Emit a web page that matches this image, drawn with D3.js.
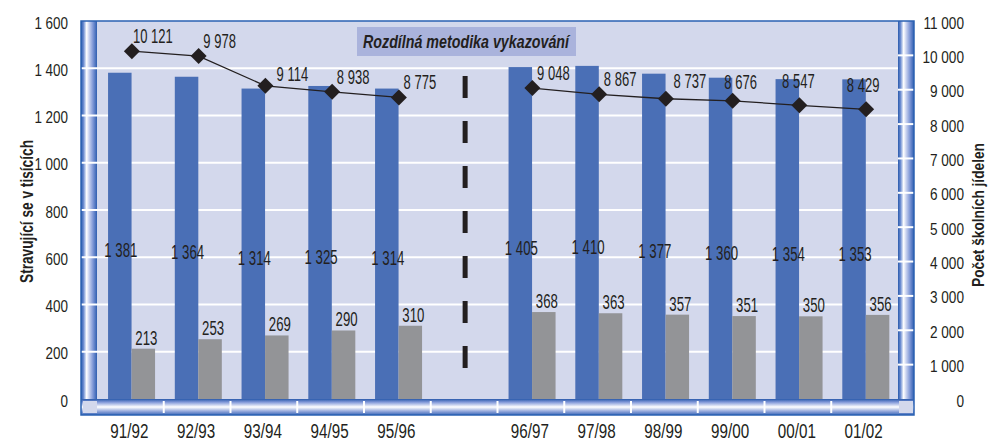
<!DOCTYPE html>
<html><head><meta charset="utf-8">
<script src="https://cdn.jsdelivr.net/npm/d3@7"></script>
<style>
html,body{margin:0;padding:0;background:#fff;}
svg{display:block;}
text{font-family:"Liberation Sans",Arial,sans-serif;fill:#231f20;}
</style></head>
<body>
<svg id="chart" width="990" height="443"></svg>
<script>
// ---- data ----
const categories = ["91/92","92/93","93/94","94/95","95/96","gap","96/97","97/98","98/99","99/00","00/01","01/02"];
const stravujici = [1381,1364,1314,1325,1314,null,1405,1410,1377,1360,1354,1353];
const druhaRada  = [213,253,269,290,310,null,368,363,357,351,350,356];
const jidelny    = [10121,9978,9114,8938,8775,null,9048,8867,8737,8676,8547,8429];
const leftTicks  = [0,200,400,600,800,1000,1200,1400,1600];
const rightTicks = [0,1000,2000,3000,4000,5000,6000,7000,8000,9000,10000,11000];
const leftTitle  = "Stravující se v tisících";
const rightTitle = "Počet školních jídelen";
const noteText   = "Rozdílná metodika vykazování";

// ---- layout ----
const svg = d3.select("#chart");
const P = {left:97, right:898, top:21, bottom:399};
const wall = 16;
const fmt = d3.formatLocale({thousands:" ", grouping:[3], decimal:",", currency:["",""]}).format(",d");

const x = d3.scaleBand().domain(categories).range([P.left, P.right]).paddingInner(0).paddingOuter(0);
const xSub = d3.scaleBand().domain(["a","b"]).range([0, x.bandwidth()]).paddingInner(0).paddingOuter(0.42).align(0.56);
const yL = d3.scaleLinear().domain([0,1600]).range([P.bottom, P.top]);
const yR = d3.scaleLinear().domain([0,11000]).range([P.bottom, P.top]);

function squeeze(sel, f){
  sel.each(function(){
    const L = this.getComputedTextLength();
    this.setAttribute("textLength", (L*f).toFixed(2));
    this.setAttribute("lengthAdjust","spacingAndGlyphs");
  });
}

// gradients
const defs = svg.append("defs");
const gv = defs.append("linearGradient").attr("id","gWall").attr("x1","0").attr("x2","1").attr("y1","0").attr("y2","0");
[[0,"#2a5aab"],[0.15,"#6688cf"],[0.35,"#ffffff"],[0.5,"#cbd4f0"],[0.75,"#7d96d6"],[1,"#2f5eb0"]]
  .forEach(s=>gv.append("stop").attr("offset",s[0]).attr("stop-color",s[1]));
const gf = defs.append("linearGradient").attr("id","gFloor").attr("x1","0").attr("x2","0").attr("y1","0").attr("y2","1");
[[0,"#2a5aab"],[0.2,"#8299d9"],[0.5,"#ffffff"],[0.75,"#9badde"],[1,"#3a66b8"]]
  .forEach(s=>gf.append("stop").attr("offset",s[0]).attr("stop-color",s[1]));

// plot background
svg.append("rect").attr("x",P.left).attr("y",P.top).attr("width",P.right-P.left).attr("height",P.bottom-P.top).attr("fill","#d3d8ec");

// walls and floor
svg.append("rect").attr("x",P.left-wall).attr("y",P.top).attr("width",wall).attr("height",P.bottom-P.top+wall).attr("fill","url(#gWall)");
svg.append("rect").attr("x",P.right).attr("y",P.top).attr("width",wall).attr("height",P.bottom-P.top+wall).attr("fill","url(#gWall)");
svg.append("rect").attr("x",P.left-wall).attr("y",P.bottom).attr("width",P.right-P.left+2*wall).attr("height",wall).attr("fill","url(#gFloor)");
svg.append("rect").attr("x",P.left-wall+2).attr("y",P.bottom+2).attr("width",wall-2).attr("height",wall-4).attr("fill","#d3d8ec");
svg.append("rect").attr("x",P.right+1).attr("y",P.bottom+2).attr("width",wall-2).attr("height",wall-4).attr("fill","#d3d8ec");

// gridlines (left axis) crossing the left wall
svg.append("g").selectAll("line").data(leftTicks.filter(t=>t>0 && t<1600)).join("line")
  .attr("x1",P.left-wall).attr("x2",P.right).attr("y1",d=>yL(d)).attr("y2",d=>yL(d))
  .attr("stroke","#fff").attr("stroke-width",2);
// right wall ticks
svg.append("g").selectAll("line").data(rightTicks.filter(t=>t>0 && t<11000)).join("line")
  .attr("x1",P.right).attr("x2",P.right+wall).attr("y1",d=>yR(d)).attr("y2",d=>yR(d))
  .attr("stroke","#fff").attr("stroke-width",2);
// floor ticks at category boundaries
svg.append("g").selectAll("line").data(categories.slice(1)).join("line")
  .attr("x1",d=>x(d)).attr("x2",d=>x(d)).attr("y1",P.bottom+2).attr("y2",P.bottom+wall-2)
  .attr("stroke","#fff").attr("stroke-width",2);

// outer border
svg.append("rect").attr("x",P.left-wall).attr("y",P.top).attr("width",P.right-P.left+2*wall).attr("height",P.bottom-P.top+wall)
  .attr("fill","none").attr("stroke","#2b62b3").attr("stroke-width",1.5);

// bars
const rows = categories.map((c,i)=>({c, a:stravujici[i], b:druhaRada[i], n:jidelny[i]})).filter(d=>d.a!=null);
svg.append("g").selectAll("rect").data(rows).join("rect")
  .attr("x",d=>x(d.c)+xSub("a")).attr("width",xSub.bandwidth())
  .attr("y",d=>yL(d.a)).attr("height",d=>yL(0)-yL(d.a)).attr("fill","#4a6fb6");
svg.append("g").selectAll("rect").data(rows).join("rect")
  .attr("x",d=>x(d.c)+xSub("b")).attr("width",xSub.bandwidth())
  .attr("y",d=>yL(d.b)).attr("height",d=>yL(0)-yL(d.b)).attr("fill","#939497");

// dashed separator in the gap slot
const gx = x("gap")+x.bandwidth()/2+1;
svg.append("line").attr("x1",gx).attr("x2",gx).attr("y1",76).attr("y2",370)
  .attr("stroke","#231f20").attr("stroke-width",5).attr("stroke-dasharray","22 23");

// bar labels
const blueLbl = svg.append("g").selectAll("text").data(rows).join("text")
  .attr("text-anchor","middle").attr("font-size",20)
  .attr("x",d=>x(d.c)+xSub("a")+xSub.bandwidth()/2+1)
  .attr("y",d=>(yL(d.a)+yL(0))/2+21.5).text(d=>fmt(d.a));
squeeze(blueLbl,0.66);
const grayLbl = svg.append("g").selectAll("text").data(rows).join("text")
  .attr("text-anchor","middle").attr("font-size",20)
  .attr("x",d=>x(d.c)+xSub("b")+xSub.bandwidth()/2+3)
  .attr("y",d=>yL(d.b)-4).text(d=>fmt(d.b));
squeeze(grayLbl,0.66);

// line series
const cx = c => x(c)+x.bandwidth()/2+1.5;
const pts = categories.map((c,i)=>({c, v:jidelny[i]}));
svg.append("path").datum(pts)
  .attr("d", d3.line().defined(d=>d.v!=null).x(d=>cx(d.c)).y(d=>yR(d.v)))
  .attr("fill","none").attr("stroke","#231f20").attr("stroke-width",1.3);
svg.append("g").selectAll("path").data(pts.filter(d=>d.v!=null)).join("path")
  .attr("d", d3.symbol(d3.symbolSquare,128)())
  .attr("transform",d=>`translate(${cx(d.c)},${yR(d.v)}) rotate(45)`)
  .attr("fill","#231f20");
// line labels (placement nudges like the original)
const nudge = {"93/94":[27,-5],"99/00":[8,-12],"00/01":[-1,-17],"01/02":[-3,-17],"98/99":[24,-11]};
const lineLbl = svg.append("g").selectAll("text").data(pts.filter(d=>d.v!=null)).join("text")
  .attr("text-anchor","middle").attr("font-size",20)
  .attr("x",d=>cx(d.c)+(nudge[d.c]?nudge[d.c][0]:21))
  .attr("y",d=>yR(d.v)+(nudge[d.c]?nudge[d.c][1]:-8))
  .text(d=>fmt(d.v));
squeeze(lineLbl,0.65);

// note box
svg.append("rect").attr("x",357).attr("y",27).attr("width",219).attr("height",29).attr("fill","#aab3dc");
svg.append("text").attr("x",466).attr("y",48).attr("text-anchor","middle")
  .attr("font-size",19).attr("font-weight","bold").attr("font-style","italic")
  .attr("textLength",206).attr("lengthAdjust","spacingAndGlyphs").text(noteText);

// left axis labels
const lt = svg.append("g").selectAll("text").data(leftTicks).join("text")
  .attr("text-anchor","end").attr("font-size",17).attr("x",68).attr("y",d=>yL(d)+7.5).text(d=>fmt(d));
squeeze(lt,0.79);
// right axis labels
const rt = svg.append("g").selectAll("text").data(rightTicks).join("text")
  .attr("text-anchor","end").attr("font-size",17).attr("x",964).attr("y",d=>yR(d)+7.5).text(d=>fmt(d));
squeeze(rt,0.8);
// category labels
const ct = svg.append("g").selectAll("text").data(categories.filter(c=>c!=="gap")).join("text")
  .attr("text-anchor","middle").attr("font-size",20).attr("x",d=>x(d)+x.bandwidth()/2-1).attr("y",438).text(d=>d);
squeeze(ct,0.76);

// axis titles
svg.append("text").attr("transform","translate(33,211.5) rotate(-90)").attr("text-anchor","middle")
  .attr("font-size",18).attr("font-weight","bold").attr("textLength",143).attr("lengthAdjust","spacingAndGlyphs").text(leftTitle);
svg.append("text").attr("transform","translate(984,215) rotate(-90)").attr("text-anchor","middle")
  .attr("font-size",17).attr("font-weight","bold").attr("textLength",144).attr("lengthAdjust","spacingAndGlyphs").text(rightTitle);
</script>
</body></html>
